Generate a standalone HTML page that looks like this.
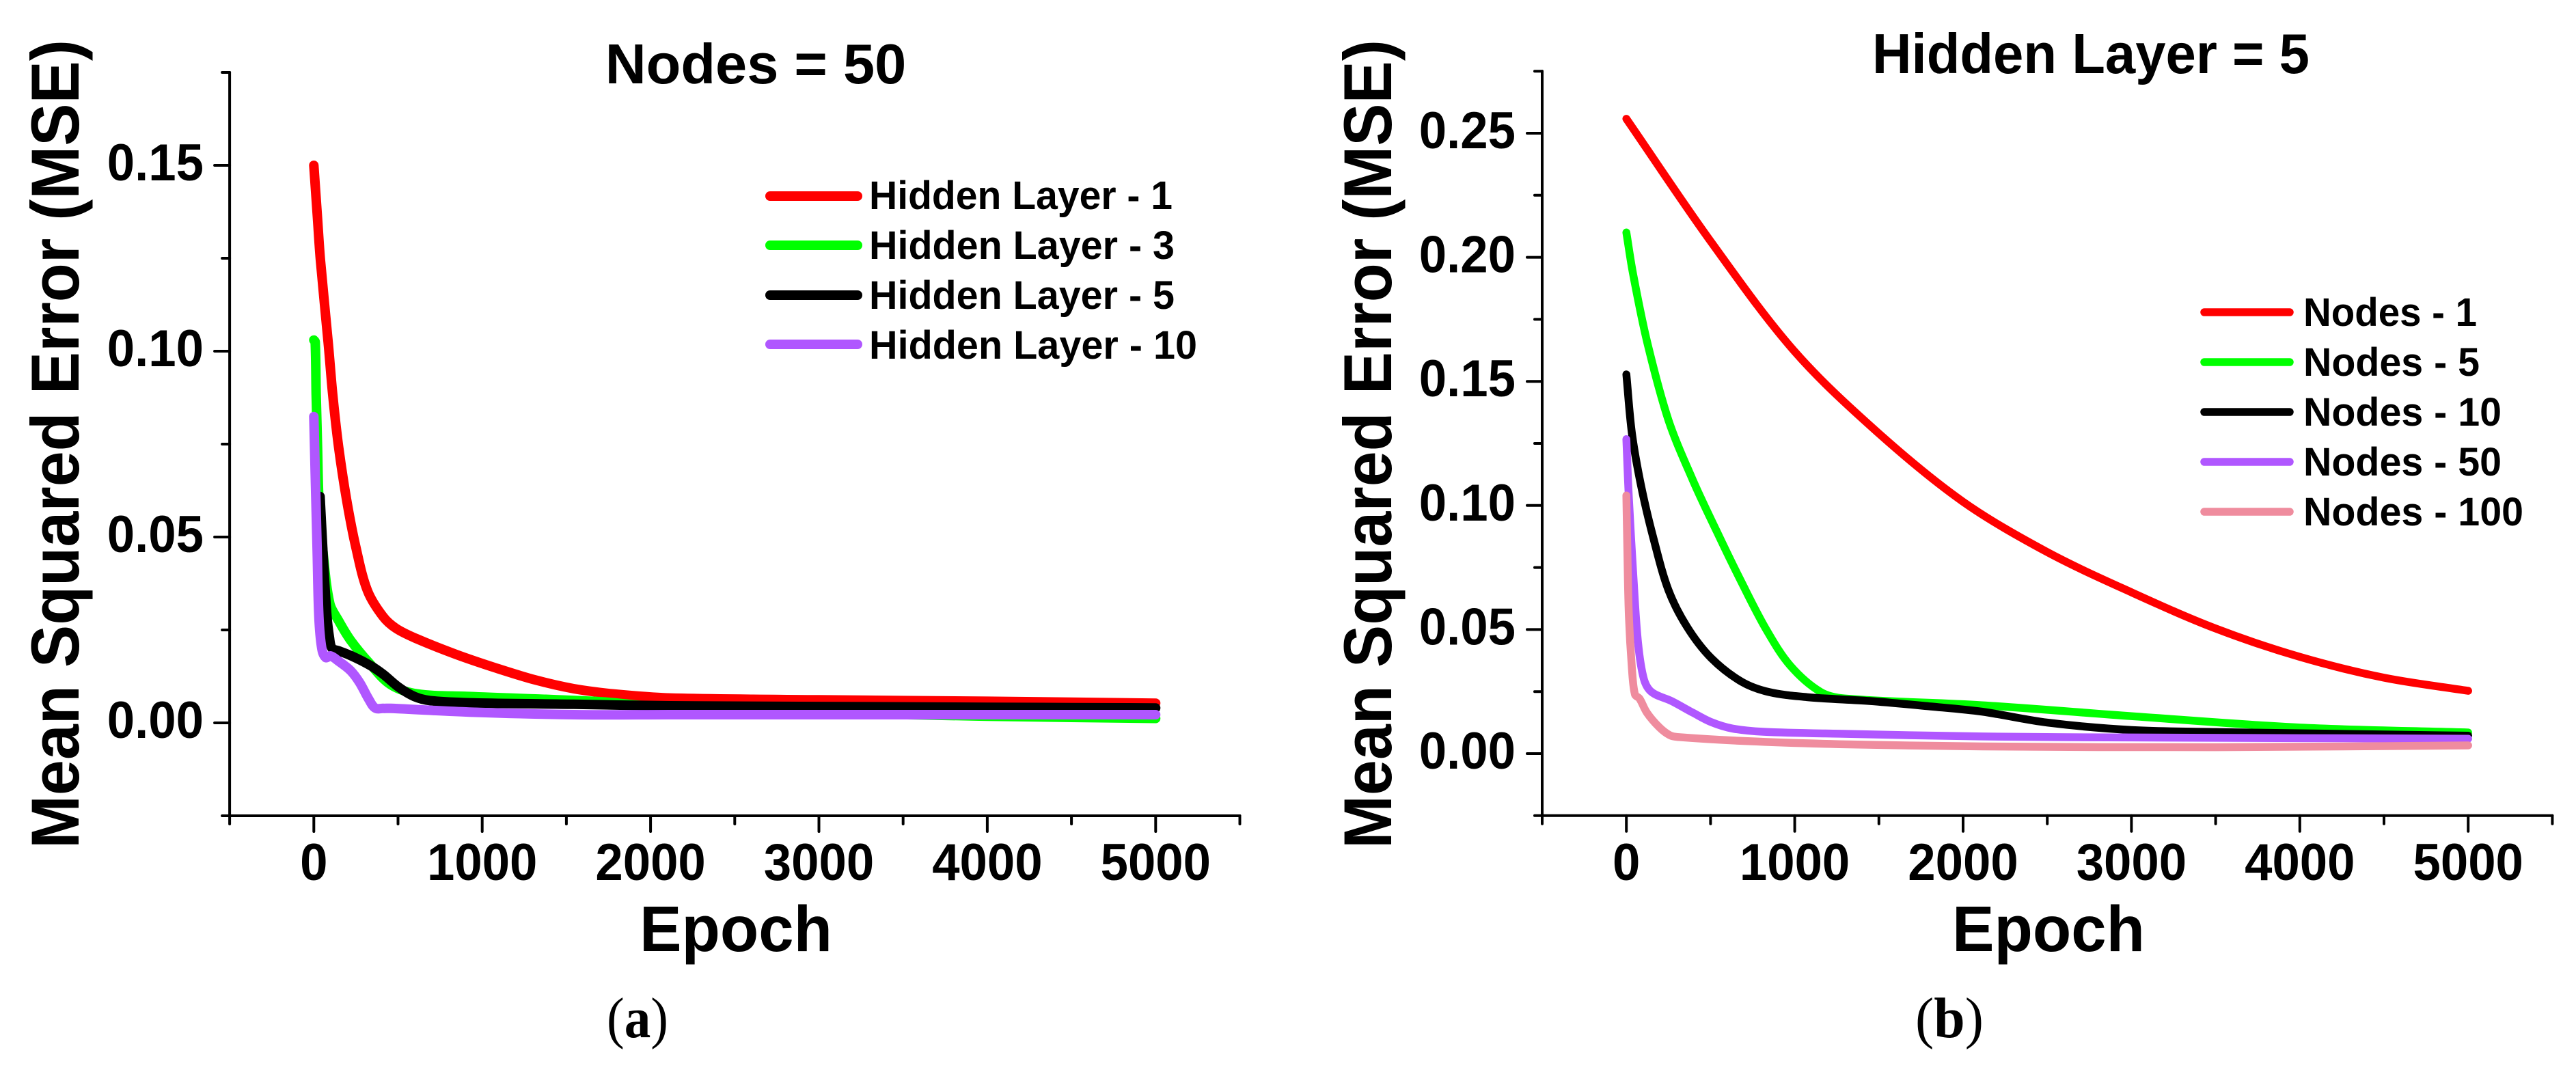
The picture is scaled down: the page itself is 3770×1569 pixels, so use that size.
<!DOCTYPE html>
<html lang="en">
<head>
<meta charset="utf-8">
<title>MSE vs Epoch</title>
<style>
html,body{margin:0;padding:0;background:#fff;}
svg{display:block;}
text{font-family:"Liberation Sans",Arial,sans-serif;font-weight:700;fill:#000;}
.cap{font-family:"Liberation Serif",serif;font-weight:400;}
</style>
</head>
<body>
<svg id="figure" xmlns="http://www.w3.org/2000/svg" width="3770" height="1569" viewBox="0 0 3770 1569">
<rect x="0" y="0" width="3770" height="1569" fill="#fff"/>

<g id="panel-a">
  <text x="1106" y="122" font-size="83" text-anchor="middle">Nodes = 50</text>
  <text transform="translate(115,650) rotate(-90)" font-size="99" text-anchor="middle" textLength="1184" lengthAdjust="spacingAndGlyphs">Mean Squared Error (MSE)</text>
  <text x="1077" y="1392" font-size="95" text-anchor="middle" textLength="282" lengthAdjust="spacingAndGlyphs">Epoch</text>
  <text class="cap" x="933" y="1518" font-size="84" text-anchor="middle" textLength="90" lengthAdjust="spacingAndGlyphs">(<tspan font-weight="700">a</tspan>)</text>
  <g>
    <g><line x1="1127" x2="1255" y1="287" y2="287" stroke="#ff0000" stroke-width="14" stroke-linecap="round"/><text x="1272" y="306" font-size="58" textLength="444" lengthAdjust="spacingAndGlyphs">Hidden Layer - 1</text></g>
    <g><line x1="1127" x2="1255" y1="359" y2="359" stroke="#00ff00" stroke-width="14" stroke-linecap="round"/><text x="1272" y="379" font-size="58" textLength="447" lengthAdjust="spacingAndGlyphs">Hidden Layer - 3</text></g>
    <g><line x1="1127" x2="1255" y1="432" y2="432" stroke="#000000" stroke-width="14" stroke-linecap="round"/><text x="1272" y="452" font-size="58" textLength="447" lengthAdjust="spacingAndGlyphs">Hidden Layer - 5</text></g>
    <g><line x1="1127" x2="1255" y1="504" y2="504" stroke="#b057ff" stroke-width="14" stroke-linecap="round"/><text x="1272" y="525" font-size="58" textLength="480" lengthAdjust="spacingAndGlyphs">Hidden Layer - 10</text></g>
  </g>
</g>

<g id="panel-b">
  <text x="3060" y="107" font-size="83" text-anchor="middle" textLength="640" lengthAdjust="spacingAndGlyphs">Hidden Layer = 5</text>
  <text transform="translate(2036,650) rotate(-90)" font-size="99" text-anchor="middle" textLength="1184" lengthAdjust="spacingAndGlyphs">Mean Squared Error (MSE)</text>
  <text x="2998" y="1392" font-size="95" text-anchor="middle" textLength="282" lengthAdjust="spacingAndGlyphs">Epoch</text>
  <text class="cap" x="2853" y="1518" font-size="84" text-anchor="middle" textLength="100" lengthAdjust="spacingAndGlyphs">(<tspan font-weight="700">b</tspan>)</text>
  <g>
    <g><line x1="3226" x2="3351" y1="457" y2="457" stroke="#ff0000" stroke-width="11.5" stroke-linecap="round"/><text x="3371" y="477" font-size="58" textLength="254" lengthAdjust="spacingAndGlyphs">Nodes - 1</text></g>
    <g><line x1="3226" x2="3351" y1="530" y2="530" stroke="#00ff00" stroke-width="11.5" stroke-linecap="round"/><text x="3371" y="550" font-size="58" textLength="258" lengthAdjust="spacingAndGlyphs">Nodes - 5</text></g>
    <g><line x1="3226" x2="3351" y1="603" y2="603" stroke="#000000" stroke-width="11.5" stroke-linecap="round"/><text x="3371" y="623" font-size="58" textLength="290" lengthAdjust="spacingAndGlyphs">Nodes - 10</text></g>
    <g><line x1="3226" x2="3351" y1="676" y2="676" stroke="#b057ff" stroke-width="11.5" stroke-linecap="round"/><text x="3371" y="696" font-size="58" textLength="290" lengthAdjust="spacingAndGlyphs">Nodes - 50</text></g>
    <g><line x1="3226" x2="3351" y1="749" y2="749" stroke="#ef8c9e" stroke-width="11.5" stroke-linecap="round"/><text x="3371" y="769" font-size="58" textLength="322" lengthAdjust="spacingAndGlyphs">Nodes - 100</text></g>
  </g>
</g>
</svg>

<script>
// ---- shared x axis ----
const xTickValues = [0, 1000, 2000, 3000, 4000, 5000];
const xMinorValues = [-500, 500, 1500, 2500, 3500, 4500, 5500];

// ---- panel (a): Nodes = 50 ----
const aYTickLabels = ['0.00', '0.05', '0.10', '0.15'];
const aYMinorValues = [-0.025, 0.025, 0.075, 0.125, 0.175];

const hl1Epochs = [0, 20, 39, 85, 112, 147, 194, 248, 318, 411, 489, 613, 846, 1079, 1311, 1544, 1777, 2116, 3000, 4000, 5000];
const hl1Mse = [0.15, 0.137, 0.1246, 0.1025, 0.0884, 0.0743, 0.0602, 0.0476, 0.0356, 0.0286, 0.0254, 0.0226, 0.0184, 0.0148, 0.0116, 0.0092, 0.0078, 0.0067, 0.0062, 0.0058, 0.0053];

const hl3Epochs = [0, 8, 14, 22, 30, 54, 95, 147, 217, 333, 456, 613, 923, 1700, 2000, 3000, 4000, 5000];
const hl3Mse = [0.103, 0.1025, 0.0884, 0.0743, 0.0602, 0.0462, 0.0321, 0.0275, 0.0223, 0.0159, 0.0103, 0.0078, 0.0071, 0.0057, 0.0045, 0.0028, 0.0018, 0.0012];

const hl5Epochs = [37, 54, 78, 93, 108, 147, 225, 333, 411, 504, 597, 691, 923, 1544, 2116, 3000, 4000, 5000];
const hl5Mse = [0.0609, 0.0462, 0.0286, 0.0229, 0.0201, 0.0194, 0.018, 0.0155, 0.0131, 0.0096, 0.0071, 0.006, 0.0054, 0.005, 0.0046, 0.0044, 0.0042, 0.004];

const hl10Epochs = [0, 8, 20, 30, 47, 70, 100, 147, 217, 271, 326, 364, 412, 456, 923, 1544, 2116, 3000, 4000, 5000];
const hl10Mse = [0.0824, 0.0673, 0.0462, 0.0286, 0.0201, 0.0176, 0.018, 0.0166, 0.0141, 0.0109, 0.0064, 0.004, 0.0039, 0.0039, 0.0029, 0.0022, 0.0022, 0.0022, 0.0022, 0.0022];

// ---- panel (b): Hidden Layer = 5 ----
const bYTickLabels = ['0.00', '0.05', '0.10', '0.15', '0.20', '0.25'];
const bYMinorValues = [-0.025, 0.025, 0.075, 0.125, 0.175, 0.225, 0.275];

const n1Epochs = [0, 500, 1000, 1500, 2000, 2500, 3000, 3500, 4000, 4500, 5000];
const n1Mse = [0.2558, 0.2065, 0.162, 0.129, 0.1015, 0.0812, 0.065, 0.0504, 0.039, 0.0306, 0.0253];

const n5Epochs = [0, 39, 123, 250, 395, 540, 684, 830, 974, 1155, 1300, 2112, 3000, 4000, 5000];
const n5Mse = [0.21, 0.1936, 0.166, 0.1344, 0.1102, 0.0891, 0.0691, 0.0501, 0.0354, 0.0248, 0.0222, 0.0195, 0.0151, 0.0105, 0.0085];

const n10Epochs = [0, 33, 87, 160, 250, 359, 504, 684, 847, 1083, 1445, 1808, 2112, 2500, 3000, 3500, 4000, 5000];
const n10Mse = [0.1528, 0.1291, 0.1081, 0.087, 0.0659, 0.0512, 0.0385, 0.029, 0.0248, 0.0227, 0.0212, 0.019, 0.0169, 0.0125, 0.0095, 0.0087, 0.0082, 0.0072];

const n50Epochs = [0, 15, 42, 69, 104, 150, 268, 395, 504, 630, 812, 1264, 2112, 3000, 5000];
const n50Mse = [0.1267, 0.1028, 0.0712, 0.0449, 0.0301, 0.0248, 0.0212, 0.0165, 0.0127, 0.0101, 0.0088, 0.008, 0.0069, 0.0065, 0.006];

const n100Epochs = [0, 6, 15, 33, 51, 78, 123, 196, 258, 304, 720, 1264, 2112, 3500, 5000];
const n100Mse = [0.104, 0.0818, 0.0554, 0.0344, 0.0238, 0.0222, 0.0164, 0.0106, 0.0074, 0.0067, 0.005, 0.0038, 0.0029, 0.0026, 0.0033];

const SVG_NS = 'http://www.w3.org/2000/svg';
const DIGIT_WIDTH = 0.556;
const DOT_WIDTH = 0.278;
const LABEL_SIZE = 76;
const LABEL_SQUEEZE = 0.955;

function makeX(x0) {
  return function (epoch) { return x0 + epoch * 0.2464; };
}
function makeY(y0, perUnit) {
  return function (mse) { return y0 - mse * perUnit; };
}

function drawLine(parent, x1, y1, x2, y2, width, name) {
  const el = document.createElementNS(SVG_NS, 'line');
  el.setAttribute('x1', x1);
  el.setAttribute('y1', y1);
  el.setAttribute('x2', x2);
  el.setAttribute('y2', y2);
  el.setAttribute('stroke', '#000');
  el.setAttribute('stroke-width', width);
  el.setAttribute('stroke-linecap', 'round');
  
  
  parent.appendChild(el);
}

function drawLabel(parent, x, y, anchor, content, name) {
  const el = document.createElementNS(SVG_NS, 'text');
  let units = 0;
  for (const ch of content) { units += ch === '.' ? DOT_WIDTH : DIGIT_WIDTH; }
  el.setAttribute('x', x);
  el.setAttribute('y', y);
  el.setAttribute('font-size', LABEL_SIZE);
  el.setAttribute('text-anchor', anchor);
  el.setAttribute('textLength', (units * LABEL_SIZE * LABEL_SQUEEZE).toFixed(1));
  el.setAttribute('lengthAdjust', 'spacingAndGlyphs');
  el.textContent = content;
  
  
  parent.appendChild(el);
}

// Smooth curve through the points; tangent handles scale with each segment so sharp elbows do not overshoot.
function smoothPath(points) {
  let d = 'M' + points[0][0].toFixed(1) + ' ' + points[0][1].toFixed(1);
  function tangent(i) {
    const a = points[Math.max(i - 1, 0)];
    const b = points[Math.min(i + 1, points.length - 1)];
    const dx = b[0] - a[0];
    const dy = b[1] - a[1];
    const len = Math.hypot(dx, dy) || 1;
    return [dx / len, dy / len];
  }
  for (let i = 0; i < points.length - 1; i++) {
    const p = points[i];
    const q = points[i + 1];
    const seg = Math.hypot(q[0] - p[0], q[1] - p[1]);
    const t0 = tangent(i);
    const t1 = tangent(i + 1);
    const h = seg * 0.33;
    d += ' C' + (p[0] + t0[0] * h).toFixed(1) + ' ' + (p[1] + t0[1] * h).toFixed(1) +
         ' ' + (q[0] - t1[0] * h).toFixed(1) + ' ' + (q[1] - t1[1] * h).toFixed(1) +
         ' ' + q[0].toFixed(1) + ' ' + q[1].toFixed(1);
  }
  return d;
}

function drawSeries(parent, xs, ys, fx, fy, color, width, name) {
  const pts = xs.map(function (e, i) { return [fx(e), fy(ys[i])]; });
  const el = document.createElementNS(SVG_NS, 'path');
  el.setAttribute('d', smoothPath(pts));
  el.setAttribute('fill', 'none');
  el.setAttribute('stroke', color);
  el.setAttribute('stroke-width', width);
  el.setAttribute('stroke-linecap', 'round');
  el.setAttribute('stroke-linejoin', 'round');
  
  
  parent.appendChild(el);
}

function drawAxes(panel, fx, fy, yLabels, yMinor, labelX, prefix) {
  const axisY = fy(yMinor[0]);
  const topY = fy(yMinor[yMinor.length - 1]);
  const leftX = fx(-500);
  const rightX = fx(5500);
  drawLine(panel, leftX, axisY, rightX, axisY, 4, prefix + '-x-axis-line');
  drawLine(panel, leftX, axisY, leftX, topY, 4, prefix + '-y-axis-line');
  xTickValues.forEach(function (v) {
    drawLine(panel, fx(v), axisY, fx(v), axisY + 23, 4, prefix + '-x-tick-' + v);
    drawLabel(panel, fx(v), 1288, 'middle', String(v), prefix + '-x-tick-label-' + v);
  });
  xMinorValues.forEach(function (v) {
    drawLine(panel, fx(v), axisY, fx(v), axisY + 12, 4, prefix + '-x-minor-tick');
  });
  yLabels.forEach(function (label) {
    const v = parseFloat(label);
    drawLine(panel, leftX, fy(v), leftX - 22, fy(v), 4, prefix + '-y-tick-' + label);
    drawLabel(panel, labelX, fy(v) + 22, 'end', label, prefix + '-y-tick-label-' + label);
  });
  yMinor.forEach(function (v) {
    drawLine(panel, leftX, fy(v), leftX - 11, fy(v), 4, prefix + '-y-minor-tick');
  });
}

const panelA = document.getElementById('panel-a');
const axA = makeX(459.3);
const ayA = makeY(1058, 5440);
drawAxes(panelA, axA, ayA, aYTickLabels, aYMinorValues, 298, 'a');
drawSeries(panelA, hl1Epochs, hl1Mse, axA, ayA, '#ff0000', 14, 'series-hidden-layer-1');
drawSeries(panelA, hl3Epochs, hl3Mse, axA, ayA, '#00ff00', 14, 'series-hidden-layer-3');
drawSeries(panelA, hl5Epochs, hl5Mse, axA, ayA, '#000000', 14, 'series-hidden-layer-5');
drawSeries(panelA, hl10Epochs, hl10Mse, axA, ayA, '#b057ff', 14, 'series-hidden-layer-10');

const panelB = document.getElementById('panel-b');
const axB = makeX(2380.2);
const ayB = makeY(1103, 3632);
drawAxes(panelB, axB, ayB, bYTickLabels, bYMinorValues, 2218, 'b');
drawSeries(panelB, n1Epochs, n1Mse, axB, ayB, '#ff0000', 11.5, 'series-nodes-1');
drawSeries(panelB, n5Epochs, n5Mse, axB, ayB, '#00ff00', 11.5, 'series-nodes-5');
drawSeries(panelB, n10Epochs, n10Mse, axB, ayB, '#000000', 11.5, 'series-nodes-10');
drawSeries(panelB, n50Epochs, n50Mse, axB, ayB, '#b057ff', 11.5, 'series-nodes-50');
drawSeries(panelB, n100Epochs, n100Mse, axB, ayB, '#ef8c9e', 11.5, 'series-nodes-100');
</script>
</body>
</html>
